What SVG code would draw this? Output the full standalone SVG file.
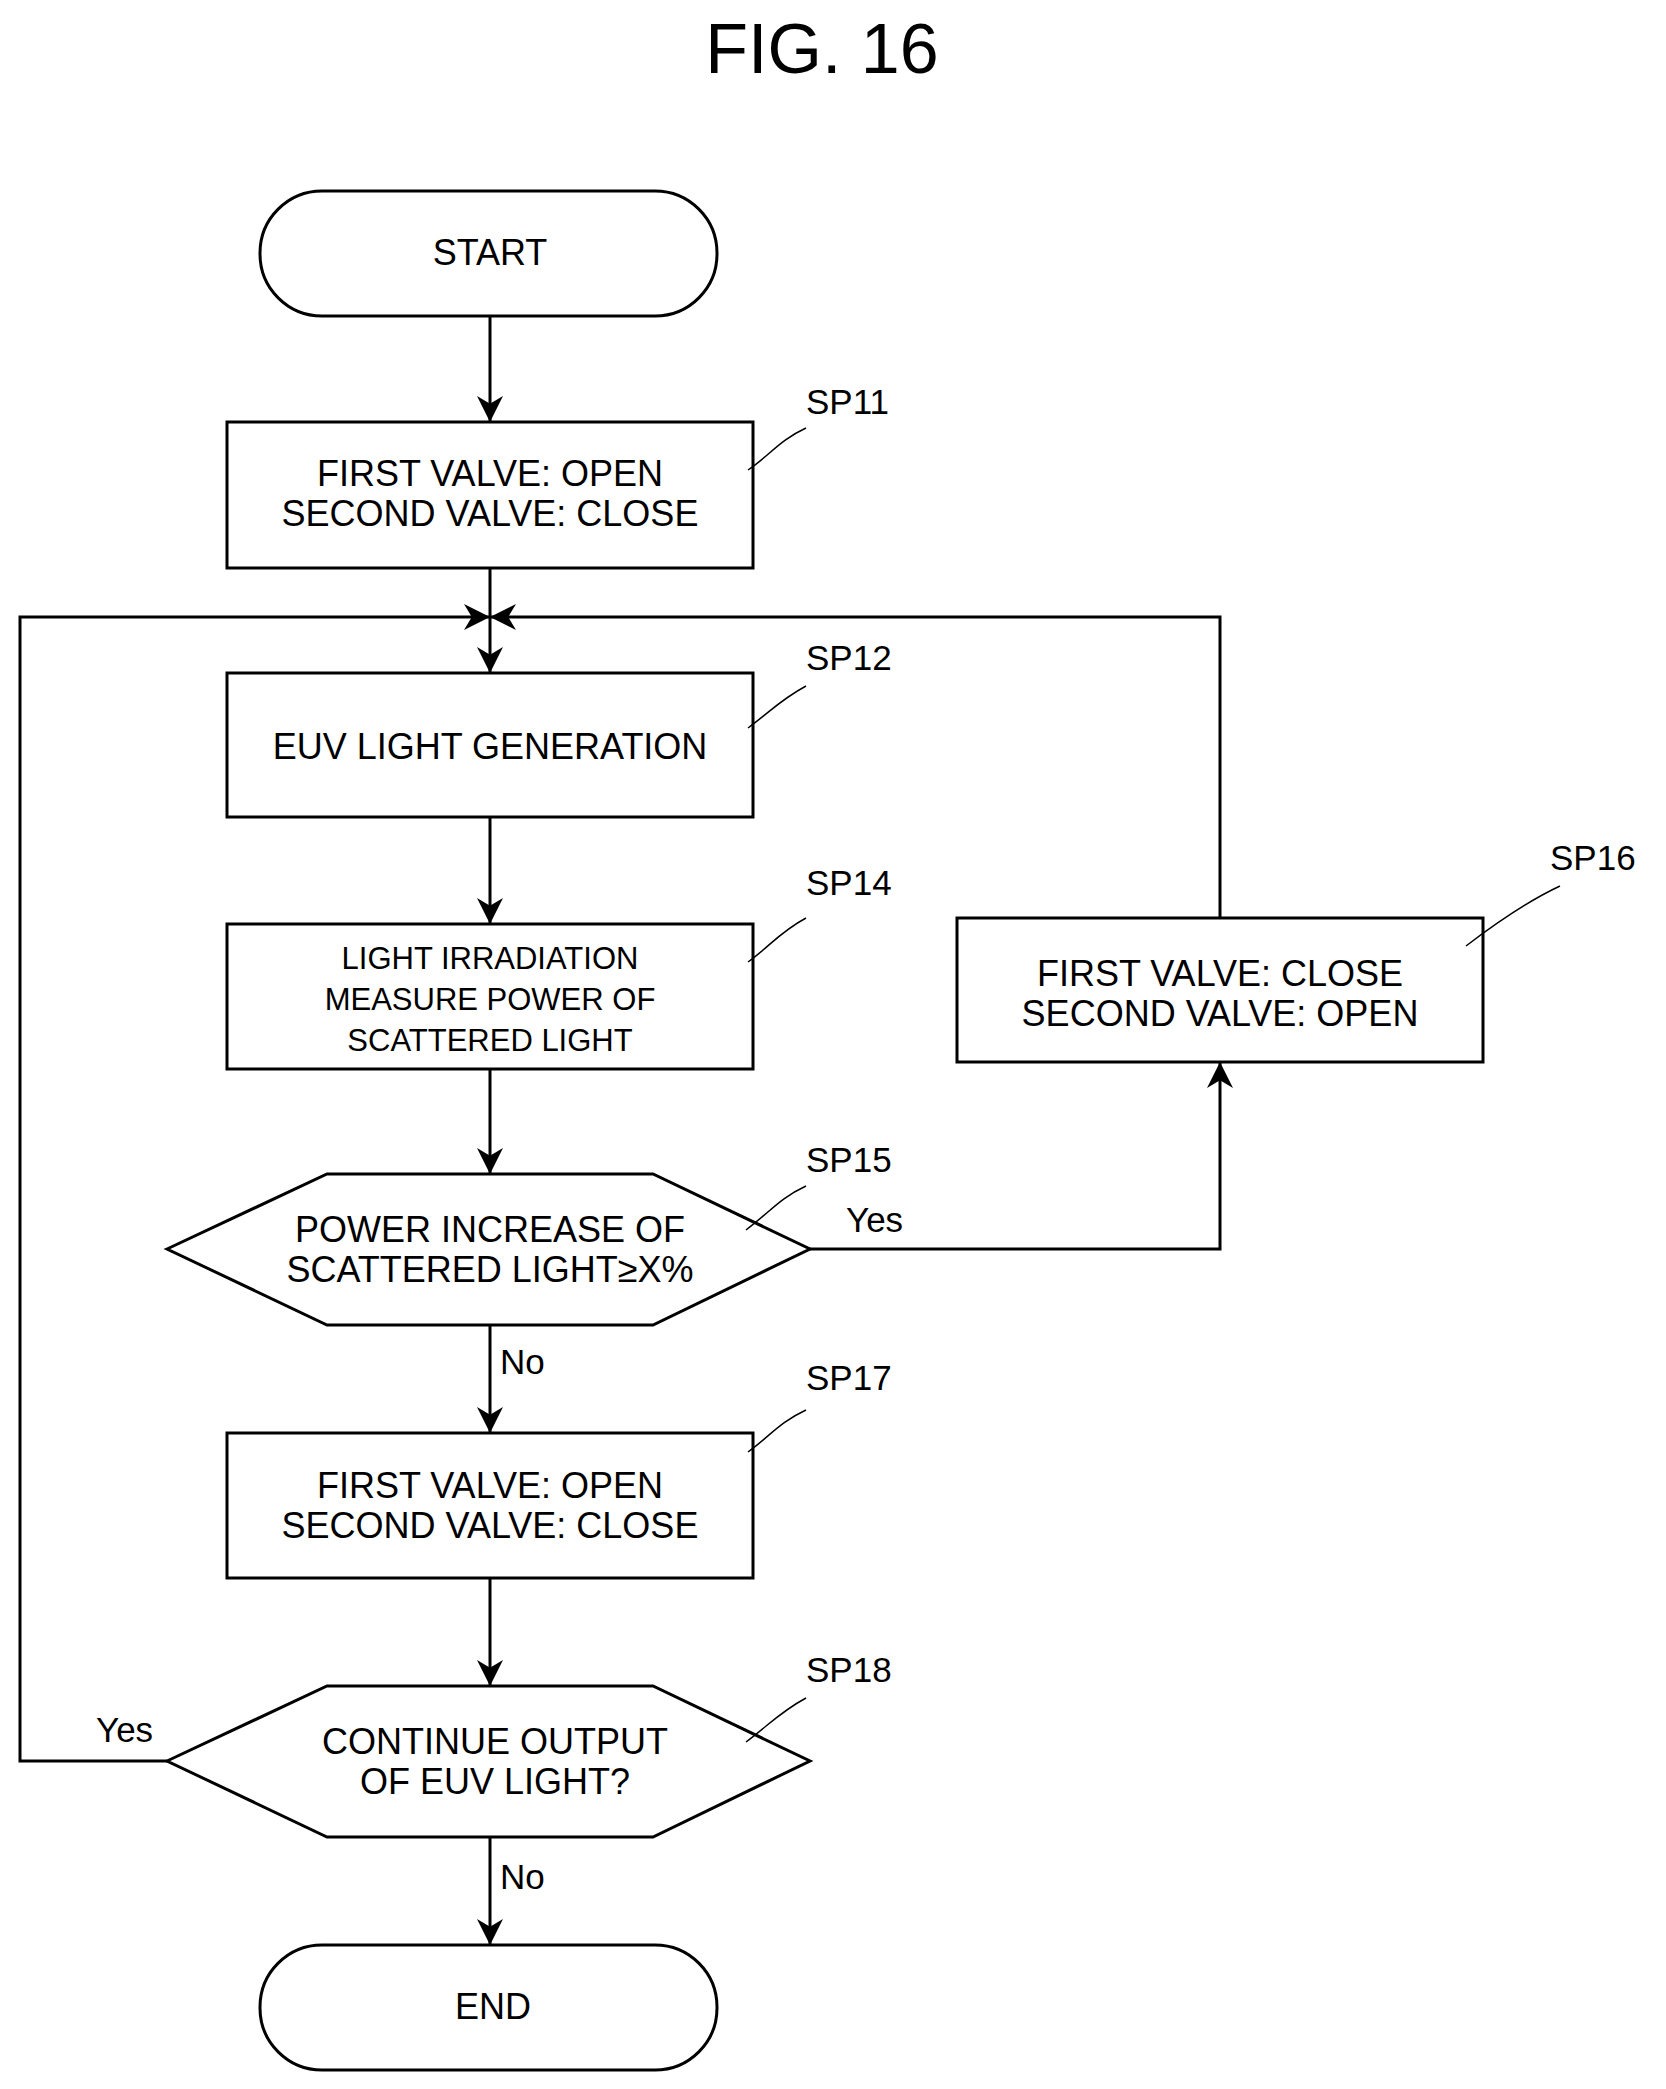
<svg xmlns="http://www.w3.org/2000/svg" width="1666" height="2089" viewBox="0 0 1666 2089">
<style>
.b{fill:#fff;stroke:#000;stroke-width:3}
.t{font-family:"Liberation Sans",Arial,sans-serif;font-size:36px;text-anchor:middle;fill:#000}
.s{font-size:31px}
.l{font-family:"Liberation Sans",Arial,sans-serif;font-size:35px;fill:#000}
.c{fill:none;stroke:#000;stroke-width:3}
.q{fill:none;stroke:#000;stroke-width:1.5}
</style>
<defs><marker id="a" viewBox="0 0 10 10" refX="10" refY="5" markerWidth="9" markerHeight="9" markerUnits="userSpaceOnUse" orient="auto"><path d="M0,0L10,5L0,10z"/></marker>
<marker id="m" viewBox="0 0 10 10" refX="10" refY="5" markerWidth="26" markerHeight="26" markerUnits="userSpaceOnUse" orient="auto"><path d="M0,0L10,5L0,10L3,5z"/></marker></defs>
<text x="822" y="73" class="t" style="font-size:70px">FIG. 16</text>
<g id="connectors">
<path class="c" d="M490,316V422" marker-end="url(#m)"/>
<path class="c" d="M490,568V673" marker-end="url(#m)"/>
<path class="c" d="M490,817V924" marker-end="url(#m)"/>
<path class="c" d="M490,1069V1174" marker-end="url(#m)"/>
<path class="c" d="M490,1325V1433" marker-end="url(#m)"/>
<path class="c" d="M490,1578V1686" marker-end="url(#m)"/>
<path class="c" d="M490,1837V1945" marker-end="url(#m)"/>
<path class="c" d="M810,1249H1220V1062" marker-end="url(#m)"/>
<path class="c" d="M1220,918V617H490" marker-end="url(#m)"/>
<path class="c" d="M167,1761H20V617H490" marker-end="url(#m)"/>
<text x="846" y="1232" class="l">Yes</text>
<text x="500" y="1374" class="l">No</text>
<text x="96" y="1742" class="l">Yes</text>
<text x="500" y="1889" class="l">No</text>
</g>
<g id="start"><rect class="b" x="260" y="191" width="457" height="125" rx="62"/><text class="t" x="490" y="265">START</text></g>
<g id="sp11"><rect class="b" x="227" y="422" width="526" height="146"/><text class="t" x="490" y="486">FIRST VALVE: OPEN</text><text class="t" x="490" y="526">SECOND VALVE: CLOSE</text>
<path class="q" d="M748,470C770,455 780,440 806,428"/><text class="l" x="806" y="414">SP11</text></g>
<g id="sp12"><rect class="b" x="227" y="673" width="526" height="144"/><text class="t" x="490" y="759">EUV LIGHT GENERATION</text>
<path class="q" d="M748,728C770,712 780,700 806,686"/><text class="l" x="806" y="670">SP12</text></g>
<g id="sp14"><rect class="b" x="227" y="924" width="526" height="145"/><text class="t s" x="490" y="969">LIGHT IRRADIATION</text><text class="t s" x="490" y="1010">MEASURE POWER OF</text><text class="t s" x="490" y="1051">SCATTERED LIGHT</text>
<path class="q" d="M748,962C770,946 780,932 806,918"/><text class="l" x="806" y="895">SP14</text></g>
<g id="sp15"><path class="b" d="M167,1249L327,1174H653L810,1249L653,1325H327Z"/><text class="t" x="490" y="1242">POWER INCREASE OF</text><text class="t" x="490" y="1282">SCATTERED LIGHT≥X%</text>
<path class="q" d="M746,1230C770,1212 780,1198 806,1186"/><text class="l" x="806" y="1172">SP15</text></g>
<g id="sp16"><rect class="b" x="957" y="918" width="526" height="144"/><text class="t" x="1220" y="986">FIRST VALVE: CLOSE</text><text class="t" x="1220" y="1026">SECOND VALVE: OPEN</text>
<path class="q" d="M1466,946C1500,920 1530,900 1560,886"/><text class="l" x="1550" y="870">SP16</text></g>
<g id="sp17"><rect class="b" x="227" y="1433" width="526" height="145"/><text class="t" x="490" y="1498">FIRST VALVE: OPEN</text><text class="t" x="490" y="1538">SECOND VALVE: CLOSE</text>
<path class="q" d="M748,1452C770,1436 780,1422 806,1410"/><text class="l" x="806" y="1390">SP17</text></g>
<g id="sp18"><path class="b" d="M167,1761L327,1686H653L810,1761L653,1837H327Z"/><text class="t" x="495" y="1754">CONTINUE OUTPUT</text><text class="t" x="495" y="1794">OF EUV LIGHT?</text>
<path class="q" d="M746,1742C770,1724 780,1712 806,1698"/><text class="l" x="806" y="1682">SP18</text></g>
<g id="end"><rect class="b" x="260" y="1945" width="457" height="125" rx="62"/><text class="t" x="493" y="2019">END</text></g>
</svg>
